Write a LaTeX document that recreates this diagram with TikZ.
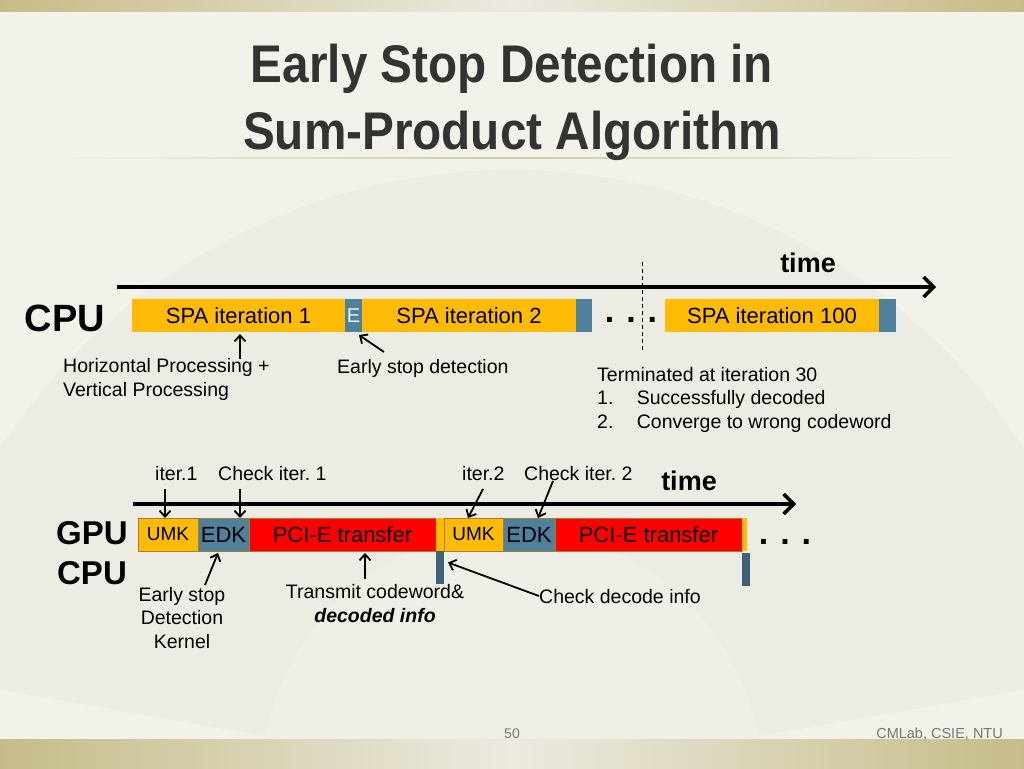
\documentclass[tikz,border=0pt]{standalone}
\usepackage{fontspec}
\setmainfont{Liberation Sans}
\newfontfamily\titlefont[FakeStretch=0.9]{Liberation Sans Bold}
\frenchspacing
\usetikzlibrary{arrows.meta,calc}
\definecolor{bg}{HTML}{F3F2EA}
\definecolor{fan}{HTML}{EDECE4}
\definecolor{olive}{HTML}{C6BC88}
\definecolor{olivelight}{HTML}{ECEAE0}
\definecolor{titlec}{HTML}{333333}
\definecolor{orangec}{HTML}{FDBB05}
\definecolor{steel}{HTML}{4F809C}
\definecolor{darksteel}{HTML}{3E6374}
\definecolor{redc}{HTML}{FF0000}
\definecolor{edge}{HTML}{A67C2E}
\definecolor{footc}{HTML}{777777}
\begin{document}
\begin{tikzpicture}[x=1pt,y=-1pt,
  box/.style={inner sep=0pt, outer sep=0pt, minimum height=33pt, anchor=north west, font=\fontsize{22}{24}\selectfont},
  gbox/.style={box, draw=edge, line width=0.7pt},
  ann/.style={font=\fontsize{19.5}{23.5}\selectfont, inner sep=0pt},
  big/.style={font=\fontsize{#1}{#1}\selectfont\bfseries, inner sep=0pt, anchor=base},
  ttl/.style={font=\fontsize{53}{53}\selectfont\titlefont, text=titlec, anchor=base, inner sep=0pt},
  timeline/.style={line width=3.5pt, -{Straight Barb[length=10pt, width=20pt]}},
  pointer/.style={line width=1.8pt, -{Straight Barb[length=6pt, width=11pt]}},
  dots/.style={font=\fontsize{34}{34}\selectfont\bfseries, inner sep=0pt, anchor=base}]
% background
\fill[bg] (0,0) rectangle (1024,768);
\useasboundingbox (0,0) rectangle (1024,768);
\fill[fan] (512,780) -- ++(-170:610) arc[start angle=-170, end angle=-10, radius=610] -- cycle;
\fill[bg!50!fan] (512,780) -- ++(-170:250) arc[start angle=-170, end angle=-10, radius=250] -- cycle;
\shade[left color=olive, right color=olive, middle color=olivelight] (0,0) rectangle (1024,12);
\shade[left color=olive, right color=olive, middle color=olivelight] (0,739) rectangle (1024,768);
\shade[left color=bg, right color=bg, middle color=olive!80] (50,157.3) rectangle (975,158.8);
% title
\node[ttl] (t1) at (512,82) {Early Stop Detection in};
\node[ttl] (t2) at (512,149) {Sum-Product Algorithm};
% ---------- CPU section ----------
\coordinate (ta) at (117,287);
\coordinate (tb) at (936,287);
\draw[timeline] (ta) -- (tb);
\node[big=27] (time1) at (808,272) {time};
\coordinate (da) at (642,262);
\coordinate (db) at (642,350);
\draw[dashed, line width=0.9pt, dash pattern=on 4pt off 3pt] (da) -- (db);
\node[big=38] (cpu) at (65,331) {CPU};
\node[box, fill=orangec, minimum width=213pt] (spa1) at (132,299) {SPA iteration 1};
\node[box, fill=steel, minimum width=17pt, text=white!90!steel, font=\fontsize{20}{22}\selectfont] (E) at (345,299) {E};
\node[box, fill=orangec, minimum width=214pt] (spa2) at (362,299) {SPA iteration 2};
\node[box, fill=steel, minimum width=16pt] (b2) at (576,299) {};
\node[dots] (d1) at (631,322) {.\hspace{0.35em}.\hspace{0.35em}.};
\node[box, fill=orangec, minimum width=214pt] (spa100) at (665,299) {SPA iteration 100};
\node[box, fill=steel, minimum width=17pt] (b100) at (879,299) {};
\node[ann, anchor=base west, align=left] (hp) at (63,396) {Horizontal Processing +\\Vertical Processing};
\node[ann, anchor=base west] (esd) at (337,373) {Early stop detection};
\node[ann, anchor=base west, align=left] (term) at (597,428)
  {Terminated at iteration 30\\1.\hspace{1.2em}Successfully decoded\\2.\hspace{1.2em}Converge to wrong codeword};
\coordinate (hpa) at (240,359);
\coordinate (hpb) at (240,334);
\draw[pointer] (hpa) -- (hpb);
\coordinate (esa) at (384,352);
\draw[pointer] (esa) -- ($(E.south east)+(-3,3)$);
% ---------- GPU section ----------
\coordinate (ga) at (133,504);
\coordinate (gb) at (796,504);
\draw[timeline] (ga) -- (gb);
\node[big=27] (time2) at (689,490) {time};
\node[big=33] (gpu) at (92,544) {GPU};
\node[big=33] (cpu2) at (92,584) {CPU};
\node[gbox, fill=orangec, minimum width=60pt, font=\fontsize{19}{21}\selectfont] (umk1) at (138,518) {UMK};
\node[gbox, fill=steel, minimum width=51pt] (edk1) at (198,518) {EDK};
\node[gbox, fill=redc, minimum width=187pt] (pci1) at (249,518) {PCI-E transfer};
\node[box, fill=orangec, minimum width=8pt] (s1) at (436,518) {};
\node[box, fill=darksteel, minimum width=8pt] (c1) at (436,551) {};
\node[gbox, fill=orangec, minimum width=59pt, font=\fontsize{19}{21}\selectfont] (umk2) at (444,518) {UMK};
\node[gbox, fill=steel, minimum width=52pt] (edk2) at (503,518) {EDK};
\node[gbox, fill=redc, minimum width=187pt] (pci2) at (555,518) {PCI-E transfer};
\node[box, fill=orangec, minimum width=5pt] (s2) at (742,518) {};
\node[box, fill=darksteel, minimum width=8pt] (c2) at (742,553) {};
\node[dots] (d2) at (785,544) {.\hspace{0.35em}.\hspace{0.35em}.};
\node[ann, anchor=base west] (it1) at (155,480) {iter.1};
\node[ann, anchor=base west] (ci1) at (218,480) {Check iter. 1};
\node[ann, anchor=base west] (it2) at (462,480) {iter.2};
\node[ann, anchor=base west] (ci2) at (524,480) {Check iter. 2};
\node[ann, anchor=base, align=center] (esk) at (182,648) {Early stop\\Detection\\Kernel};
\node[ann, anchor=base, align=center] (tc) at (375,622) {Transmit codeword\&\\\textbf{\textit{decoded info}}};
\node[ann, anchor=base west] (cdi) at (539,603) {Check decode info};
\coordinate (p1) at (165,489);
\draw[pointer] (p1) -- (p1 |- umk1.north);
\coordinate (p2) at (240,489);
\draw[pointer] (p2) -- (p2 |- edk1.north);
\coordinate (p3) at (483,489);
\draw[pointer] (p3) -- (468,518);
\coordinate (p4) at (553,481);
\draw[pointer] (p4) -- (538,518);
\coordinate (p5) at (205,585);
\draw[pointer] (p5) -- (218,553);
\coordinate (p6) at (365,579);
\draw[pointer] (p6) -- (365,553);
\draw[pointer] (cdi.west) -- ($(c1.east)+(4,-5)$);
% footer
\node[font=\fontsize{14}{14}\selectfont, text=footc, anchor=base, inner sep=0pt] (pg) at (512,738) {50};
\node[font=\fontsize{14.5}{14.5}\selectfont, text=footc, anchor=base east, inner sep=0pt] (ft) at (1003,738) {CMLab, CSIE, NTU};
\end{tikzpicture}
\end{document}
